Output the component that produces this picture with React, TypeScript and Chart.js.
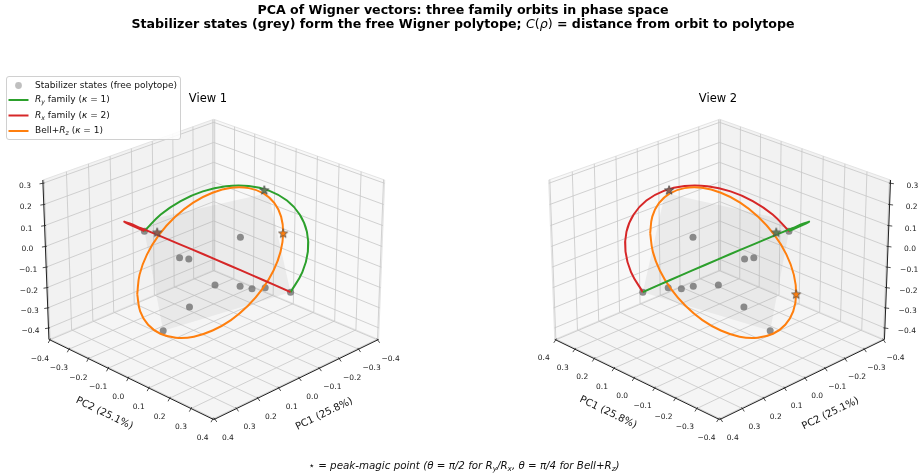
import React, { useEffect, useRef } from "react";
import { Chart, registerables } from "chart.js";

Chart.register(...registerables);

const FONT = "'DejaVu Sans', 'Liberation Sans', Arial, sans-serif";

// ---------------- axis setup ----------------
const pcLim = [-0.405, 0.405];
const zLim = [-0.457, 0.315];
const xyTicks = [-0.4, -0.3, -0.2, -0.1, 0.0, 0.1, 0.2, 0.3, 0.4];
const zTicks = [-0.4, -0.3, -0.2, -0.1, 0.0, 0.1, 0.2, 0.3];
const pc1Label = "PC1 (25.8%)";
const pc2Label = "PC2 (25.1%)";

// ---------------- data (PC1, PC2, PC3) ----------------
const stabPC1 = [0, 0, 0, 0, 0, 0, 0, 0, 0, 0, 0];
const stabPC2 = [-0.345, 0.126, -0.168, -0.122, 0.006, 0.126, 0.182, 0.243, 0.3585, -0.12, -0.255];
const stabPC3 = [-0.066, 0.095, -0.125, -0.112, -0.185, -0.139, -0.126, -0.095, -0.066, -0.349, -0.53];

const ryPC1 = [0, -0.069, -0.133, -0.188, -0.23, -0.257, -0.266, -0.257, -0.23, -0.188, -0.133, -0.069, 0];
const ryPC2 = [-0.3455, -0.3335, -0.2983, -0.2424, -0.1695, -0.0847, 0.0065, 0.0977, 0.1825, 0.2554, 0.3113, 0.3465, 0.3585];
const ryPC3 = [-0.066, -0.006, 0.0495, 0.0973, 0.134, 0.157, 0.165, 0.157, 0.134, 0.0973, 0.0495, -0.006, -0.066];

const rxPC1 = [0, 0.069, 0.133, 0.188, 0.23, 0.257, 0.266, 0.257, 0.23, 0.188, 0.133, 0.069, 0];
const rxPC2 = [-0.3455, -0.3335, -0.2983, -0.2424, -0.1695, -0.0847, 0.0065, 0.0977, 0.1825, 0.2554, 0.3113, 0.3465, 0.3585];
const rxPC3 = [-0.066, -0.006, 0.0495, 0.0973, 0.134, 0.157, 0.165, 0.157, 0.134, 0.0973, 0.0495, -0.006, -0.066];

const bellPC1 = [0.352, 0.34, 0.305, 0.249, 0.176, 0.091, 0, -0.091, -0.176, -0.249, -0.305, -0.34, -0.352, -0.34, -0.305, -0.249, -0.176, -0.091, 0, 0.091, 0.176, 0.249, 0.305, 0.34, 0.352];
const bellPC2 = [-0.006, -0.006, -0.006, -0.006, -0.006, -0.006, -0.006, -0.006, -0.006, -0.006, -0.006, -0.006, -0.006, -0.006, -0.006, -0.006, -0.006, -0.006, -0.006, -0.006, -0.006, -0.006, -0.006, -0.006, -0.006];
const bellPC3 = [-0.081, 0.006, 0.086, 0.155, 0.208, 0.242, 0.253, 0.242, 0.208, 0.155, 0.086, 0.006, -0.081, -0.168, -0.248, -0.317, -0.37, -0.404, -0.415, -0.404, -0.37, -0.317, -0.248, -0.168, -0.081];

// peak-magic points: Ry, Rx, Bell+Rz
const peakPC1 = [-0.2555, 0.2555, -0.352];
const peakPC2 = [-0.0085, -0.0085, -0.006];
const peakPC3 = [0.168, 0.168, -0.081];

// free polytope outline (in the stabilizer plane)
const polyPC1 = [0, 0, 0, 0, 0];
const polyPC2 = [-0.345, -0.281, 0.252, 0.3585, -0.255];
const polyPC3 = [-0.066, 0.025, 0.351, -0.066, -0.53];

const GREEN = "#2ca02c";
const RED = "#d62728";
const ORANGE = "#ff7f0e";

// ---------------- projection ----------------
type V3 = [number, number, number];
const BOX = [1.1429, 1.1429, 0.8571];
const DIST = 10;
const SCALE = 2104;
const CY = 261.8;

interface View {
  title: string;
  titleX: number;
  elev: number;
  azim: number;
  cx: number;
  xWall: number;
  yWall: number;
  yAxisX: number;
  zAxisX: number;
  zAxisY: number;
  xOff: [number, number];
  yOff: [number, number];
  zOff: [number, number];
  xLab: [number, number];
  yLab: [number, number];
  orders: { ry: number; rx: number; bell: number };
}

const VIEWS: View[] = [
  {
    title: "View 1", titleX: 208, elev: 25, azim: 45, cx: 210.5,
    xWall: pcLim[0], yWall: pcLim[0], yAxisX: pcLim[1], zAxisX: pcLim[1], zAxisY: pcLim[0],
    xOff: [13, 19], yOff: [-10, 19], zOff: [-18, 3], xLab: [28, 34.5], yLab: [-27, 34],
    orders: { ry: 3, rx: 1, bell: 2 },
  },
  {
    title: "View 2", titleX: 718, elev: 25, azim: 135, cx: 723,
    xWall: pcLim[1], yWall: pcLim[0], yAxisX: pcLim[0], zAxisX: pcLim[0], zAxisY: pcLim[0],
    xOff: [-12, 18.5], yOff: [12, 18.5], zOff: [22, 3], xLab: [-29, 33], yLab: [28.5, 34],
    orders: { ry: 1, rx: 3, bell: 2 },
  },
];

function dot(a: number[], b: number[]) {
  return a[0] * b[0] + a[1] * b[1] + a[2] * b[2];
}

function project(view: View, p: V3) {
  const e = (view.elev * Math.PI) / 180;
  const a = (view.azim * Math.PI) / 180;
  const n = [
    ((p[0] - (pcLim[0] + pcLim[1]) / 2) / (pcLim[1] - pcLim[0])) * BOX[0],
    ((p[1] - (pcLim[0] + pcLim[1]) / 2) / (pcLim[1] - pcLim[0])) * BOX[1],
    ((p[2] - (zLim[0] + zLim[1]) / 2) / (zLim[1] - zLim[0])) * BOX[2],
  ];
  const w = [Math.cos(e) * Math.cos(a), Math.cos(e) * Math.sin(a), Math.sin(e)];
  const u = [-Math.sin(a), Math.cos(a), 0];
  const v = [-Math.sin(e) * Math.cos(a), -Math.sin(e) * Math.sin(a), Math.cos(e)];
  const depth = DIST - dot(n, w);
  return { x: view.cx + (SCALE * dot(n, u)) / depth, y: CY - (SCALE * dot(n, v)) / depth };
}

function series(view: View, xs: number[], ys: number[], zs: number[]) {
  return xs.map((x, i) => project(view, [x, ys[i], zs[i]]));
}

function starImage(fill: string, stroke: string) {
  const c = document.createElement("canvas");
  c.width = 12;
  c.height = 12;
  const g = c.getContext("2d")!;
  g.beginPath();
  for (let i = 0; i < 10; i++) {
    const r = i % 2 === 0 ? 4.8 : 2.0;
    const ang = -Math.PI / 2 + (i * Math.PI) / 5;
    g.lineTo(6 + r * Math.cos(ang), 6.4 + r * Math.sin(ang));
  }
  g.closePath();
  g.fillStyle = fill;
  g.fill();
  g.strokeStyle = stroke;
  g.lineWidth = 0.7;
  g.stroke();
  return c;
}

// ---------------- rich text ----------------
type Part = { t: string; it?: boolean; sub?: boolean; b?: boolean };
function fontFor(p: Part, size: number) {
  const s = p.sub ? size * 0.7 : size;
  return `${p.it ? "italic " : ""}${p.b ? "bold " : ""}${s}px ${FONT}`;
}
function drawRich(ctx: CanvasRenderingContext2D, parts: Part[], x: number, y: number, size: number, align: "left" | "center") {
  let w = 0;
  for (const p of parts) {
    ctx.font = fontFor(p, size);
    w += ctx.measureText(p.t).width;
  }
  let cx = align === "center" ? x - w / 2 : x;
  ctx.textAlign = "left";
  ctx.textBaseline = "middle";
  for (const p of parts) {
    ctx.font = fontFor(p, size);
    ctx.fillText(p.t, cx, y + (p.sub ? size * 0.3 : 0));
    cx += ctx.measureText(p.t).width;
  }
}

function fmt(t: number) {
  const s = Math.abs(t).toFixed(1);
  return t < -1e-9 ? "\u2212" + s : s;
}

// ---------------- plugins ----------------
const boxPlugin = {
  id: "box3d",
  beforeDraw(chart: any) {
    const ctx = chart.ctx as CanvasRenderingContext2D;
    ctx.save();
    ctx.fillStyle = "#ffffff";
    ctx.fillRect(0, 0, chart.width, chart.height);
    ctx.restore();
  },
  beforeDatasetsDraw(chart: any) {
    const ctx = chart.ctx as CanvasRenderingContext2D;
    const sx = chart.scales.x;
    const sy = chart.scales.y;
    const [x0, x1] = pcLim;
    const [y0, y1] = pcLim;
    const [z0, z1] = zLim;
    for (const view of VIEWS) {
      const P = (p: V3) => {
        const q = project(view, p);
        return [sx.getPixelForValue(q.x), sy.getPixelForValue(q.y)];
      };
      const poly = (pts: V3[], fill: string, stroke?: string) => {
        ctx.beginPath();
        pts.forEach((p, i) => {
          const [a, b] = P(p);
          if (i === 0) ctx.moveTo(a, b);
          else ctx.lineTo(a, b);
        });
        ctx.closePath();
        ctx.fillStyle = fill;
        ctx.fill();
        if (stroke) {
          ctx.strokeStyle = stroke;
          ctx.lineWidth = 1;
          ctx.stroke();
        }
      };
      const line = (a: V3, b: V3, color: string, lw: number) => {
        const [ax, ay] = P(a);
        const [bx, by] = P(b);
        ctx.beginPath();
        ctx.moveTo(ax, ay);
        ctx.lineTo(bx, by);
        ctx.strokeStyle = color;
        ctx.lineWidth = lw;
        ctx.stroke();
      };
      ctx.save();
      // panes
      poly([[x0, y0, z0], [x1, y0, z0], [x1, y1, z0], [x0, y1, z0]], "#f5f5f5", "#ebebeb");
      poly([[view.xWall, y0, z0], [view.xWall, y1, z0], [view.xWall, y1, z1], [view.xWall, y0, z1]], "#f8f8f8", "#e4e4e4");
      poly([[x0, view.yWall, z0], [x1, view.yWall, z0], [x1, view.yWall, z1], [x0, view.yWall, z1]], "#f2f2f2", "#e4e4e4");
      // grid
      const gc = "#c6c6c6";
      for (const t of xyTicks) {
        line([t, y0, z0], [t, y1, z0], gc, 0.8);
        line([t, view.yWall, z0], [t, view.yWall, z1], gc, 0.8);
        line([x0, t, z0], [x1, t, z0], gc, 0.8);
        line([view.xWall, t, z0], [view.xWall, t, z1], gc, 0.8);
      }
      for (const t of zTicks) {
        line([view.xWall, y0, t], [view.xWall, y1, t], gc, 0.8);
        line([x0, view.yWall, t], [x1, view.yWall, t], gc, 0.8);
      }
      // polytope shading
      poly(polyPC1.map((x, i) => [x, polyPC2[i], polyPC3[i]] as V3), "rgba(150,150,150,0.12)");
      // axis lines
      line([x0, y1, z0], [x1, y1, z0], "#222", 1);
      line([view.yAxisX, y0, z0], [view.yAxisX, y1, z0], "#222", 1);
      line([view.zAxisX, view.zAxisY, z0], [view.zAxisX, view.zAxisY, z1], "#222", 1);
      // ticks + labels
      const tickAndLabel = (p: V3, off: [number, number], txt: string) => {
        const [px, py] = P(p);
        const len = Math.hypot(off[0], off[1]);
        const dx = off[0] / len;
        const dy = off[1] / len;
        ctx.beginPath();
        ctx.moveTo(px - dx * 1.5, py - dy * 1.5);
        ctx.lineTo(px + dx * 3.5, py + dy * 3.5);
        ctx.strokeStyle = "#222";
        ctx.lineWidth = 0.8;
        ctx.stroke();
        ctx.font = `7.5px ${FONT}`;
        ctx.textAlign = "center";
        ctx.textBaseline = "middle";
        ctx.fillStyle = "#222";
        ctx.fillText(txt, px + off[0], py + off[1]);
      };
      for (const t of xyTicks) {
        tickAndLabel([t, y1, z0], view.xOff, fmt(t));
        tickAndLabel([view.yAxisX, t, z0], view.yOff, fmt(t));
      }
      for (const t of zTicks) tickAndLabel([view.zAxisX, view.zAxisY, t], view.zOff, fmt(t));
      // axis titles
      const axisTitle = (a: V3, b: V3, off: [number, number], txt: string) => {
        const [ax, ay] = P(a);
        const [bx, by] = P(b);
        let ang = Math.atan2(by - ay, bx - ax);
        if (ang > Math.PI / 2) ang -= Math.PI;
        if (ang < -Math.PI / 2) ang += Math.PI;
        ctx.save();
        ctx.translate((ax + bx) / 2 + off[0], (ay + by) / 2 + off[1]);
        ctx.rotate(ang);
        ctx.font = `10px ${FONT}`;
        ctx.textAlign = "center";
        ctx.textBaseline = "middle";
        ctx.fillStyle = "#111";
        ctx.fillText(txt, 0, 0);
        ctx.restore();
      };
      axisTitle([x0, y1, z0], [x1, y1, z0], view.xLab, pc1Label);
      axisTitle([view.yAxisX, y0, z0], [view.yAxisX, y1, z0], view.yLab, pc2Label);
      // view title
      ctx.font = `11.5px ${FONT}`;
      ctx.textAlign = "center";
      ctx.textBaseline = "middle";
      ctx.fillStyle = "#000";
      ctx.fillText(view.title, view.titleX, 99);
      ctx.restore();
    }
  },
  afterDraw(chart: any) {
    const ctx = chart.ctx as CanvasRenderingContext2D;
    ctx.save();
    ctx.fillStyle = "#000";
    drawRich(ctx, [{ t: "PCA of Wigner vectors: three family orbits in phase space", b: true }], 463, 11, 12.6, "center");
    drawRich(
      ctx,
      [
        { t: "Stabilizer states (grey) form the free Wigner polytope; ", b: true },
        { t: "C", it: true },
        { t: "(" },
        { t: "\u03c1", it: true },
        { t: ")" },
        { t: " = distance from orbit to polytope", b: true },
      ],
      463,
      25,
      12.6,
      "center"
    );
    // legend
    ctx.beginPath();
    (ctx as any).roundRect(6.5, 76.5, 174, 63, 2.5);
    ctx.fillStyle = "rgba(255,255,255,0.85)";
    ctx.fill();
    ctx.strokeStyle = "#d0d0d0";
    ctx.lineWidth = 1;
    ctx.stroke();
    const rows: { kind: string; color: string; parts: Part[] }[] = [
      { kind: "dot", color: "rgba(128,128,128,0.5)", parts: [{ t: "Stabilizer states (free polytope)" }] },
      { kind: "line", color: GREEN, parts: [{ t: "R", it: true }, { t: "y", it: true, sub: true }, { t: " family (" }, { t: "\u03ba", it: true }, { t: " = 1)" }] },
      { kind: "line", color: RED, parts: [{ t: "R", it: true }, { t: "x", it: true, sub: true }, { t: " family (" }, { t: "\u03ba", it: true }, { t: " = 2)" }] },
      { kind: "line", color: ORANGE, parts: [{ t: "Bell+" }, { t: "R", it: true }, { t: "z", it: true, sub: true }, { t: " (" }, { t: "\u03ba", it: true }, { t: " = 1)" }] },
    ];
    const rowY = [85.5, 100, 115.5, 131];
    rows.forEach((r, i) => {
      const y = rowY[i];
      if (r.kind === "dot") {
        ctx.beginPath();
        ctx.arc(18.5, y, 3.4, 0, Math.PI * 2);
        ctx.fillStyle = r.color;
        ctx.fill();
      } else {
        ctx.beginPath();
        ctx.moveTo(8.5, y);
        ctx.lineTo(28.5, y);
        ctx.strokeStyle = r.color;
        ctx.lineWidth = 2;
        ctx.stroke();
      }
      ctx.fillStyle = "#111";
      drawRich(ctx, r.parts, 35, y, 9, "left");
    });
    // footnote
    ctx.fillStyle = "#111";
    drawRich(
      ctx,
      [
        { t: "\u22c6 = peak-magic point (\u03b8 = \u03c0/2 for ", it: true },
        { t: "R", it: true },
        { t: "y", it: true, sub: true },
        { t: "/", it: true },
        { t: "R", it: true },
        { t: "x", it: true, sub: true },
        { t: ", \u03b8 = \u03c0/4 for Bell+", it: true },
        { t: "R", it: true },
        { t: "z", it: true, sub: true },
        { t: ")", it: true },
      ],
      464,
      466,
      10.3,
      "center"
    );
    ctx.restore();
  },
};

export default function App() {
  const ref = useRef<HTMLCanvasElement>(null);
  useEffect(() => {
    document.body.style.margin = "0";
    const stars = [starImage("#62805a", "#444"), starImage("#8f6055", "#444"), starImage(ORANGE, "#444")];
    const datasets: any[] = [];
    for (const view of VIEWS) {
      datasets.push({
        label: "stab",
        data: series(view, stabPC1, stabPC2, stabPC3),
        pointRadius: 3.5,
        pointBackgroundColor: "rgba(110,110,110,0.78)",
        pointBorderWidth: 0,
        showLine: false,
        order: 6,
      });
      datasets.push({
        label: "ry",
        data: series(view, ryPC1, ryPC2, ryPC3),
        showLine: true,
        borderColor: GREEN,
        borderWidth: 2,
        pointRadius: 0,
        tension: 0.4,
        fill: false,
        order: view.orders.ry,
      });
      datasets.push({
        label: "rx",
        data: series(view, rxPC1, rxPC2, rxPC3),
        showLine: true,
        borderColor: RED,
        borderWidth: 2,
        pointRadius: 0,
        tension: 0.4,
        fill: false,
        order: view.orders.rx,
      });
      datasets.push({
        label: "bell",
        data: series(view, bellPC1, bellPC2, bellPC3),
        showLine: true,
        borderColor: ORANGE,
        borderWidth: 2,
        pointRadius: 0,
        tension: 0.4,
        fill: false,
        order: view.orders.bell,
      });
      datasets.push({
        label: "peak",
        data: series(view, peakPC1, peakPC2, peakPC3),
        showLine: false,
        pointStyle: stars,
        pointRadius: 5,
        order: 0,
      });
    }
    const chart = new Chart(ref.current!, {
      type: "scatter",
      data: { datasets },
      options: {
        animation: false,
        responsive: false,
        maintainAspectRatio: false,
        devicePixelRatio: 1,
        events: [],
        layout: { padding: 0 },
        plugins: { legend: { display: false }, tooltip: { enabled: false }, title: { display: false } },
        scales: {
          x: { type: "linear", min: 0, max: 924, display: false },
          y: { type: "linear", min: 0, max: 475, reverse: true, display: false },
        },
      },
      plugins: [boxPlugin],
    } as any);
    return () => chart.destroy();
  }, []);
  return (
    <div style={{ width: 924, height: 475, background: "#fff" }}>
      <canvas ref={ref} width={924} height={475} style={{ display: "block", width: 924, height: 475 }} />
    </div>
  );
}
